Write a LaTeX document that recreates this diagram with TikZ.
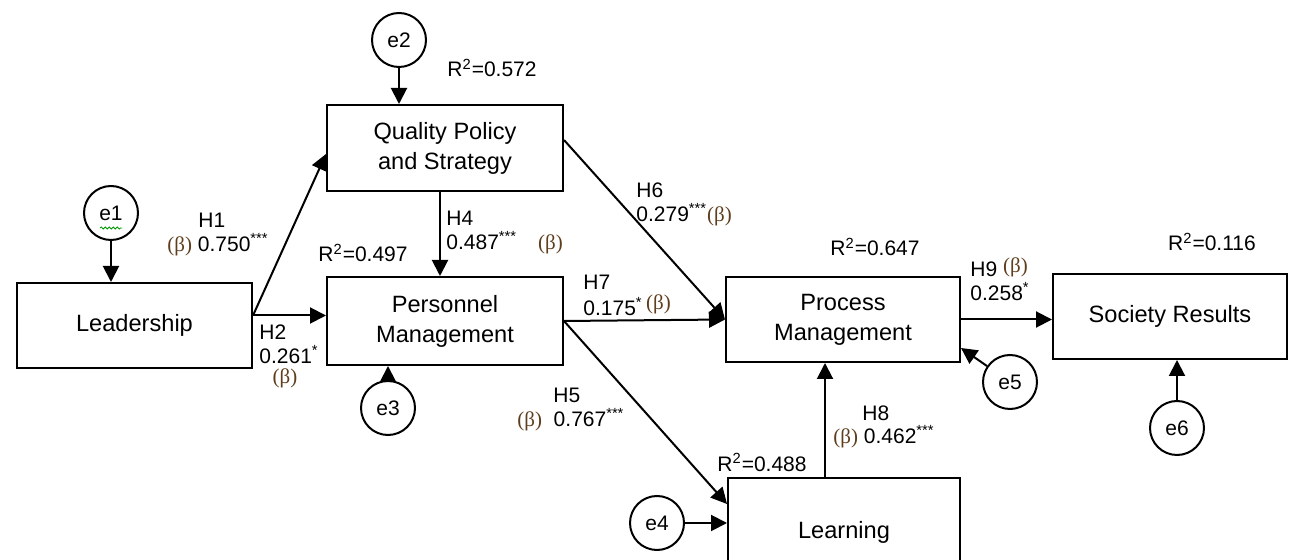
\documentclass[tikz,border=0pt]{standalone}
\usepackage{fontspec}
\setmainfont{Liberation Sans}
\newfontfamily\betafont{Liberation Serif}
\usepackage{xcolor}
\usetikzlibrary{arrows.meta,decorations.pathmorphing}

\definecolor{betabrown}{RGB}{95,62,30}
\newcommand{\betalab}{{\betafont\color{betabrown}(β)}}

\begin{document}
\begin{tikzpicture}[x=0.5pt,y=-0.5pt,
    box/.style={draw, line width=1pt, minimum width=117.5pt, minimum height=42.5pt,
        align=center, font=\fontsize{11.8}{15}\selectfont},
    err/.style={draw, circle, line width=1pt, minimum size=27pt, inner sep=0pt,
        font=\fontsize{10.5}{12}\selectfont},
    arr/.style={line width=1pt, -{Triangle[length=8pt,width=8pt]}},
    lab/.style={anchor=west, inner sep=0pt, font=\fontsize{10.5}{12}\selectfont},
    rsq/.style={inner sep=0pt, font=\fontsize{10.5}{12}\selectfont}]
    \useasboundingbox (0,0) rectangle (1290,560);
    \clip (0,0) rectangle (1290,560);

    % Create constructs
    \node[box] (lead) at (134.5,325.5) {Leadership};
    \node[box, minimum width=118pt, minimum height=43pt] (qps) at (445,148) {Quality Policy\\and Strategy};
    \node[box, minimum width=118pt, minimum height=44pt] (perm) at (445,321) {Personnel\\Management};
    \node[box, minimum width=117pt] (procm) at (843,319.5) {Process\\Management};
    \node[box, minimum width=117pt] (soc) at (1170,316.5) {Society Results};
    \node[box, minimum width=116pt, minimum height=54pt] (learn) at (844,532) {Learning};

    % Create error terms
    \node[err] (e1) at (111,213) {e1};
    \node[err] (e2) at (399,40) {e2};
    \node[err] (e3) at (388,408) {e3};
    \node[err] (e4) at (657,523) {e4};
    \node[err] (e5) at (1010,382) {e5};
    \node[err] (e6) at (1177,428) {e6};
    \draw[green!60!black, line width=0.4pt, decorate,
        decoration={snake, amplitude=0.5pt, segment length=2pt}] (100,228) -- (122,228);

    % Draw error arrows
    \draw[arr] (e1) -- (e1 |- lead.north);
    \draw[arr] (e2) -- (e2 |- qps.north);
    \draw[arr] (e3) -- (e3 |- perm.south);
    \draw[arr] (e4) -- (e4 -| learn.west);
    \draw[arr] (e5) -- ([yshift=7.5pt]procm.south east);
    \draw[arr] (e6) -- (e6 |- soc.south);

    % Draw paths
    \coordinate (ljoin) at ([yshift=5pt]lead.east);
    \draw[arr] (ljoin) -- ([yshift=-3pt]qps.west);
    \draw[arr] (ljoin) -- (perm.west |- ljoin);
    \draw[arr] ([xshift=-2.5pt]qps.south) -- ([xshift=-2.5pt]perm.north);
    \draw[arr] ([yshift=4pt]qps.east) -- (procm.west);
    \draw[arr] (perm.east) -- (procm.west);
    \draw[arr] (perm.east) -- ([yshift=-13.5pt]learn.north west);
    \draw[arr] ([xshift=-9.5pt]learn.north) -- ([xshift=-9.5pt]learn.north |- procm.south);
    \draw[arr] (procm.east) -- (soc.west |- procm.east);

    % Add path labels
    \node[lab] (h1) at (198,220) {H1};
    \node[lab] (b1) at (167,245) {\betalab\ 0.750\textsuperscript{***}};
    \node[lab] (h2) at (259,332) {H2};
    \node[lab] (b2) at (259,355) {0.261\textsuperscript{*}};
    \node[rsq] (g2) at (285,378) {\betalab};
    \node[lab] (h4) at (446,218) {H4};
    \node[lab] (b4) at (446,243) {0.487\textsuperscript{***}\quad\betalab};
    \node[lab] (h6) at (636,190) {H6};
    \node[lab] (b6) at (636,215) {0.279\textsuperscript{***}\betalab};
    \node[lab] (h7) at (583,282) {H7};
    \node[lab] (b7) at (583,305) {0.175\textsuperscript{*}\,\raisebox{3pt}{\betalab}};
    \node[lab] (h5) at (553,395) {H5};
    \node[lab] (b5) at (517,420) {\betalab\ \ 0.767\textsuperscript{***}};
    \node[lab] (h8) at (862,413) {H8};
    \node[lab] (b8) at (833,437) {\betalab\ 0.462\textsuperscript{***}};
    \node[lab] (h9) at (970,267) {H9 \raisebox{2pt}{\betalab}};
    \node[lab] (b9) at (970,292) {0.258\textsuperscript{*}};

    % Add R squared values
    \node[rsq] (r2) at (492,68) {R\textsuperscript{2}=0.572};
    \node[rsq] (r3) at (363,253) {R\textsuperscript{2}=0.497};
    \node[rsq] (r4) at (762,462) {R\textsuperscript{2}=0.488};
    \node[rsq] (r5) at (875,247) {R\textsuperscript{2}=0.647};
    \node[rsq] (r6) at (1212,242) {R\textsuperscript{2}=0.116};
\end{tikzpicture}
\end{document}
